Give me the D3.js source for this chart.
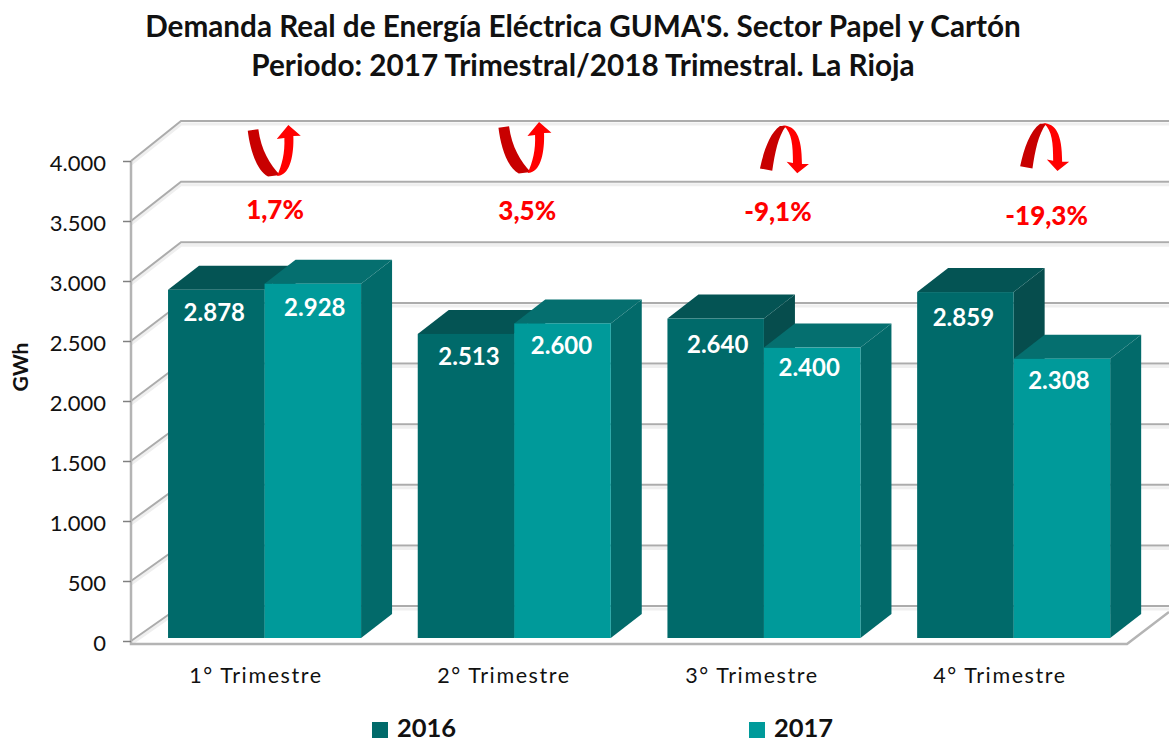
<!DOCTYPE html>
<html>
<head>
<meta charset="utf-8">
<script src="https://cdn.jsdelivr.net/npm/d3@7"></script>
<style>
  html, body { margin: 0; padding: 0; background: #fff; }
  text { font-family: Lato, "Open Sans", sans-serif; }
  .title { font-size: 29.7px; font-weight: 700; fill: #111; text-anchor: middle; }
  .tickText { font-size: 22px; fill: #111; }
  .catText { font-size: 21.5px; fill: #111; letter-spacing: 1.6px; }
  .valueText { font-size: 24px; font-weight: 700; fill: #fff; text-anchor: middle; }
  .noteText { font-size: 26px; font-weight: 900; fill: #f00; text-anchor: middle; }
  .legendText { font-size: 25.5px; font-weight: 700; fill: #111; }
</style>
</head>
<body>
<div id="chart"></div>
<script>
var categories = ["1° Trimestre", "2° Trimestre", "3° Trimestre", "4° Trimestre"];
var seriesNames = ["2016", "2017"];
var values2016 = [2878, 2513, 2640, 2859];
var values2017 = [2928, 2600, 2400, 2308];
var changes = ["1,7%", "3,5%", "-9,1%", "-19,3%"];
var yTicks = [0, 500, 1000, 1500, 2000, 2500, 3000, 3500, 4000];
var titleLines = ["Demanda Real de Energía Eléctrica GUMA'S. Sector Papel y Cartón", "Periodo: 2017 Trimestral/2018 Trimestral. La Rioja"];

var svgWidth = 1169;
var svgHeight = 742;

// depth of the 3d bars and of the chart box
var depthX = 31;
var depthY = -24;
var wallLeft = 131;
var wallBack = 181;

var svg = d3.select("#chart")
  .append("svg")
  .attr("width", svgWidth)
  .attr("height", svgHeight)
  .style("display", "block");

// Scales
var yFront = d3.scaleLinear().domain([0, 4000]).range([641, 161]);
var yBack = d3.scaleLinear().domain([0, 4000]).range([606, 121]);
var yBar = d3.scaleLinear().domain([0, 4000]).range([638, 154]);

var x0 = d3.scaleBand()
  .domain(categories)
  .range([139.7, 1138.5])
  .paddingInner(0.227)
  .paddingOuter(0.1135);

var x1 = d3.scaleBand()
  .domain(seriesNames)
  .range([0, x0.bandwidth()]);

var xLabel = d3.scaleBand()
  .domain(categories)
  .range([132, 1124]);

var colors = {
  "2016": { front: "#006a6a", top: "#045454", side: "#064d4d" },
  "2017": { front: "#009a9a", top: "#056f6f", side: "#026a6a" }
};

// Titles
svg.selectAll(".title")
  .data(titleLines)
  .enter()
  .append("text")
  .attr("class", "title")
  .attr("x", 583)
  .attr("y", (d, i) => 37 + i * 39)
  .text(d => d);

// Chart box: grid lines on the back wall and the left wall
var grid = svg.append("g").attr("fill", "none");

function gridPath(v) {
  var p = d3.path();
  p.moveTo(wallLeft, yFront(v));
  p.lineTo(wallBack, yBack(v));
  p.lineTo(svgWidth, yBack(v));
  return p.toString();
}

grid.selectAll(".gridShadow")
  .data(yTicks)
  .enter()
  .append("path")
  .attr("d", gridPath)
  .attr("transform", "translate(0, 3)")
  .attr("stroke", "#efefef")
  .attr("stroke-width", 3);

grid.selectAll(".gridLine")
  .data(yTicks)
  .enter()
  .append("path")
  .attr("d", gridPath)
  .attr("stroke", "#acacac")
  .attr("stroke-width", 2);

// left wall edge and floor edge
grid.append("path")
  .attr("d", `M${wallLeft},${yFront(4000)}V644H1127L${svgWidth},612`)
  .attr("stroke", "#b4b4b4")
  .attr("stroke-width", 2.5);

// Y axis
var esLocale = d3.formatLocale({ decimal: ",", thousands: ".", grouping: [3], currency: ["", ""] });

var leftAxis = d3.axisLeft(yFront)
  .tickValues(yTicks)
  .tickSize(8)
  .tickPadding(17)
  .tickFormat(esLocale.format(",d"));

var yAxisGroup = svg.append("g")
  .attr("transform", `translate(${wallLeft}, 0)`)
  .call(leftAxis);

yAxisGroup.select(".domain").remove();
yAxisGroup.selectAll("line").attr("stroke", "#808080").attr("stroke-width", 1.5);
yAxisGroup.selectAll("text")
  .attr("class", "tickText")
  .attr("dy", "0.42em");

svg.append("text")
  .attr("transform", "translate(28, 367) rotate(-90)")
  .attr("text-anchor", "middle")
  .style("font-size", "21px")
  .style("font-weight", 700)
  .style("fill", "#111")
  .text("GWh");

// X axis
var bottomAxis = d3.axisBottom(xLabel).tickSize(0).tickPadding(0);

var xAxisGroup = svg.append("g")
  .attr("transform", "translate(0, 664)")
  .call(bottomAxis);

xAxisGroup.select(".domain").remove();
xAxisGroup.selectAll("text")
  .attr("class", "catText")
  .attr("dy", "0.9em");

// Bars
var barData = [];
categories.forEach(function(cat, i) {
  barData.push({ cat: cat, series: "2016", value: values2016[i] });
  barData.push({ cat: cat, series: "2017", value: values2017[i] });
});

var bars = svg.selectAll(".bar")
  .data(barData)
  .enter()
  .append("g")
  .attr("class", "bar");

function barLeft(d) { return x0(d.cat) + x1(d.series); }
function barRight(d) { return barLeft(d) + x1.bandwidth(); }

bars.append("path")
  .attr("fill", d => colors[d.series].side)
  .attr("d", function(d) {
    var r = barRight(d), t = yBar(d.value), b = yBar(0);
    return `M${r},${t}l${depthX},${depthY}V${b + depthY}L${r},${b}Z`;
  });

bars.append("path")
  .attr("fill", d => colors[d.series].top)
  .attr("d", function(d) {
    var l = barLeft(d), r = barRight(d), t = yBar(d.value);
    return `M${l},${t}l${depthX},${depthY}H${r + depthX}L${r},${t}Z`;
  });

bars.append("rect")
  .attr("x", barLeft)
  .attr("y", d => yBar(d.value))
  .attr("width", x1.bandwidth())
  .attr("height", d => yBar(0) - yBar(d.value))
  .attr("fill", d => colors[d.series].front);

// the value labels do not sit evenly on the bars in the source picture
var labelNudge = [[-2, 0], [2, 1], [3, 0], [-1, 0], [2, 3], [-3, -3], [-2, 3], [-3, -1]];

bars.append("text")
  .attr("class", "valueText")
  .attr("x", (d, i) => barLeft(d) + x1.bandwidth() / 2 + labelNudge[i][0])
  .attr("y", (d, i) => yBar(d.value) + 31 + labelNudge[i][1])
  .text(d => esLocale.format(",d")(d.value));

// Change notes and their curved arrows, drawn in a small local box
var upDark = "M17.7,15.7C20,35 27,56 38,61.5L50,60C40,50 31,35 28.3,14.3Z";
var upRed = "M47,61C52,50 55,38 54.3,23L46.7,24L58.3,10L70.7,20.7L63.3,21C64,40 60,58 50,60.5Z";
var downDark = "M20,53.5C24,35 30,18 40,11L46,11C38,22 35,38 32.3,55.7Z";
var downRed = "M42,10.5C55,10 62,20 62,49L69,49L57.3,58.3L46.7,46.7L53,48C53,30 52,18 44,11Z";

var arrowShift = [[-34.5, 115], [-33.5, 112], [-24, 115], [-13.5, 112.7]];
var noteShift = [[10.5, 219], [13, 220], [14, 221], [33, 225]];

var notes = svg.selectAll(".note")
  .data(changes)
  .enter()
  .append("g")
  .attr("class", "note");

function groupMid(i) { return x0(categories[i]) + x0.bandwidth() / 2; }

notes.append("path")
  .attr("fill", "#c80000")
  .attr("transform", (d, i) => `translate(${groupMid(i) + arrowShift[i][0]}, ${arrowShift[i][1]})`)
  .attr("d", d => d[0] === "-" ? downDark : upDark);

notes.append("path")
  .attr("fill", "#ff0000")
  .attr("transform", (d, i) => `translate(${groupMid(i) + arrowShift[i][0]}, ${arrowShift[i][1]})`)
  .attr("d", d => d[0] === "-" ? downRed : upRed);

notes.append("text")
  .attr("class", "noteText")
  .attr("x", (d, i) => groupMid(i) + noteShift[i][0])
  .attr("y", (d, i) => noteShift[i][1])
  .text(d => d);

// Legend
var legendX = [372, 749];

var legend = svg.selectAll(".legend")
  .data(seriesNames)
  .enter()
  .append("g")
  .attr("class", "legend")
  .attr("transform", (d, i) => `translate(${legendX[i]}, 722)`);

legend.append("rect")
  .attr("width", 16)
  .attr("height", 16)
  .attr("fill", d => colors[d].front);

legend.append("text")
  .attr("class", "legendText")
  .attr("x", 25)
  .attr("y", 14.5)
  .text(d => d);
</script>
</body>
</html>
